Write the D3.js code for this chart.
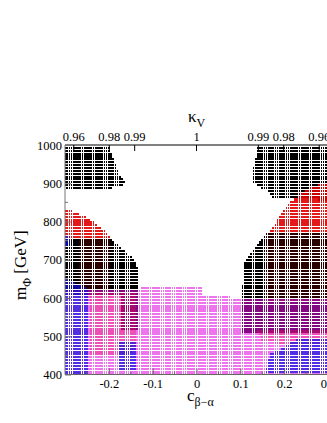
<!DOCTYPE html>
<html>
<head>
<meta charset="utf-8">
<script src="https://cdn.jsdelivr.net/npm/d3@7"></script>
<style>
  body { margin: 0; background: #fff; }
  text { font-family: "Liberation Serif", "Times New Roman", serif; fill: #000; }
</style>
</head>
<body>
<svg id="chart" width="327" height="423"></svg>
<script>
// scan grid: c_{beta-alpha} and m_Phi [GeV]
const cRange = [-0.3, 0.3];
const mRange = [400, 1000];
const cStep = 0.005;
const mStep = 7.5;

// regions of the scan as [c, m] outlines
const blackTopLeft = [[-0.3,1000],[-0.202,1000],[-0.191,971],[-0.181,940],[-0.17,911],[-0.161,898],
  [-0.175,890],[-0.234,882],[-0.27,882],[-0.3,888]];
const blackTopRight = [[0.14,1000],[0.3,1000],[0.3,856],[0.175,864],[0.161,882],[0.138,893],
  [0.127,906],[0.127,929],[0.133,956],[0.138,987]];
const blackLeft = [[-0.3,759],[-0.197,757],[-0.188,746],[-0.165,725],[-0.147,707],[-0.138,694],
  [-0.133,673],[-0.133,520],[-0.17,516],[-0.175,608],[-0.3,608]];
const blackRight = [[0.163,772],[0.3,772],[0.3,508],[0.104,508],[0.104,595],[0.106,678],
  [0.111,699],[0.127,725],[0.145,752]];
const redLeft = [[-0.3,835],[-0.277,825],[-0.254,812],[-0.232,796],[-0.211,778],[-0.195,755],[-0.3,755]];
const redRight = [[0.3,901],[0.259,891],[0.236,870],[0.221,857],[0.198,831],[0.184,805],[0.173,784],
  [0.164,773],[0.3,773]];
const redTintLeft = [[-0.266,755],[-0.197,755],[-0.197,595],[-0.266,595]];
const redTintRight = [[0.16,772],[0.3,772],[0.3,595],[0.16,595]];
const magentaBand = [[-0.3,622],[-0.13,622],[-0.128,627],[0.012,627],[0.015,608],[0.075,608],
  [0.08,600],[0.3,598],[0.3,400],[-0.3,400]];
const redLowLeft = [[-0.243,614],[-0.136,614],[-0.136,470],[-0.16,450],[-0.243,450]];
const redLowRight = [[0.135,518],[0.3,518],[0.3,478],[0.2,478],[0.15,488]];
const blueTopLeft = [[-0.3,762],[-0.289,762],[-0.289,736],[-0.3,736]];
const blueLeft = [[-0.3,650],[-0.275,640],[-0.245,620],[-0.245,400],[-0.3,400]];
const blueLowLeft = [[-0.175,490],[-0.136,490],[-0.136,412],[-0.175,412]];
const blueLowRight = [[0.3,492],[0.23,492],[0.17,455],[0.155,405],[0.3,405]];

// axis ticks
const cTicks = [-0.2, -0.1, 0, 0.1, 0.2, 0.3];
const cMinor = [-0.25, -0.15, -0.05, 0.05, 0.15, 0.25];
const mTicks = [400, 500, 600, 700, 800, 900, 1000];
const mMinor = [450, 550, 650, 750, 850, 950];
const kvTicks = [0.96, 0.98, 0.99, 1];

const svg = d3.select("#chart");
svg.append("rect").attr("width", 327).attr("height", 423).attr("fill", "#fff");

const x = d3.scaleLinear().domain(cRange).range([65, 328]);
const y = d3.scaleLinear().domain(mRange).range([374.5, 145]);

svg.append("clipPath").attr("id", "plot")
  .append("rect").attr("x", 65).attr("y", 145).attr("width", 263).attr("height", 229.5);

const grid = [];
for (const m of d3.range(mRange[0], mRange[1] + 0.01, mStep))
  for (const c of d3.range(cRange[0], cRange[1] + 0.0001, cStep)) grid.push([c, m]);

const layers = [
  { polys: [blackTopLeft, blackTopRight, blackLeft, blackRight], color: "#000", op: 1 },
  { polys: [redLeft, redRight], color: "#e00000", op: 0.9 },
  { polys: [redTintLeft, redTintRight], color: "#d00000", op: 0.2 },
  { polys: [magentaBand], color: "#e010e0", op: 0.58 },
  { polys: [redLowLeft, redLowRight], color: "#f01050", op: 0.35 },
  { polys: [blueTopLeft, blueLeft, blueLowLeft, blueLowRight], color: "#1010e0", op: 0.7 }
];

const pw = 1.7, ph = 2.1;
const g = svg.append("g").attr("clip-path", "url(#plot)").attr("shape-rendering", "crispEdges");
layers.forEach(L => {
  const pts = grid.filter(p => L.polys.some(poly => d3.polygonContains(poly, p)));
  g.append("g").attr("fill", L.color).attr("fill-opacity", L.op)
    .selectAll("rect").data(pts).join("rect")
    .attr("x", d => x(d[0]) - pw / 2)
    .attr("y", d => y(d[1]) - ph / 2)
    .attr("width", pw).attr("height", ph);
});

// frame
const fontSize = 12.5;
svg.append("line").attr("x1", 65).attr("x2", 328).attr("y1", 145).attr("y2", 145).attr("stroke", "#000");
svg.append("line").attr("x1", 65).attr("x2", 65).attr("y1", 145).attr("y2", 374.5).attr("stroke", "#777");
svg.append("line").attr("x1", 65).attr("x2", 328).attr("y1", 374.5).attr("y2", 374.5).attr("stroke", "#666");

// bottom axis
const bottomAxis = svg.append("g").attr("transform", "translate(0,374.5)")
  .call(d3.axisBottom(x).tickValues(cTicks).tickSizeInner(-6).tickSizeOuter(0).tickPadding(5)
    .tickFormat(d => d === 0 ? "0" : d3.format(".1f")(d).replace("−", "-")));
bottomAxis.select(".domain").remove();
bottomAxis.selectAll("line").attr("stroke", "#666");
bottomAxis.selectAll("text").attr("font-size", fontSize).attr("font-family", "Liberation Serif");
svg.append("g").selectAll("line").data(cMinor).join("line")
  .attr("x1", d => x(d)).attr("x2", d => x(d)).attr("y1", 374.5).attr("y2", 371.5).attr("stroke", "#666");

// left axis
const leftAxis = svg.append("g").attr("transform", "translate(65,0)")
  .call(d3.axisLeft(y).tickValues(mTicks).tickSizeInner(-6).tickSizeOuter(0).tickPadding(3)
    .tickFormat(d3.format("d")));
leftAxis.select(".domain").remove();
leftAxis.selectAll("line").attr("stroke", "#777");
leftAxis.selectAll("text").attr("font-size", fontSize).attr("font-family", "Liberation Serif");
svg.append("g").selectAll("line").data(mMinor).join("line")
  .attr("x1", 65).attr("x2", 68).attr("y1", d => y(d)).attr("y2", d => y(d)).attr("stroke", "#777");

// top axis: kappa_V = sqrt(1 - c^2)
const topTicks = [];
kvTicks.forEach(k => {
  const c = Math.sqrt(1 - k * k);
  if (c === 0) topTicks.push({ c: 0, k });
  else { topTicks.push({ c: -c, k }); topTicks.push({ c: c, k }); }
});
const topAxis = svg.append("g");
topAxis.selectAll("line").data(topTicks).join("line")
  .attr("x1", d => x(d.c)).attr("x2", d => x(d.c)).attr("y1", 145).attr("y2", 151).attr("stroke", "#000");
topAxis.selectAll("text").data(topTicks).join("text")
  .attr("x", d => x(d.c)).attr("y", 141).attr("text-anchor", "middle").attr("font-size", fontSize)
  .text(d => d.k === 1 ? "1" : d3.format(".2f")(d.k));

// titles
const kt = svg.append("text").attr("x", 188).attr("y", 122).attr("font-size", 17);
kt.append("tspan").text("κ");
kt.append("tspan").attr("dy", 5).attr("font-size", 12).text("V");

const xt = svg.append("text").attr("x", 187).attr("y", 401).attr("font-size", 17);
xt.append("tspan").text("c");
xt.append("tspan").attr("dy", 5).attr("font-size", 12).text("β−α");

const yt = svg.append("text").attr("transform", "translate(26,300) rotate(-90)").attr("font-size", 17);
yt.append("tspan").text("m");
yt.append("tspan").attr("dy", 5).attr("font-size", 12).text("Φ");
yt.append("tspan").attr("dy", -5).text(" [GeV]");
</script>
</body>
</html>
